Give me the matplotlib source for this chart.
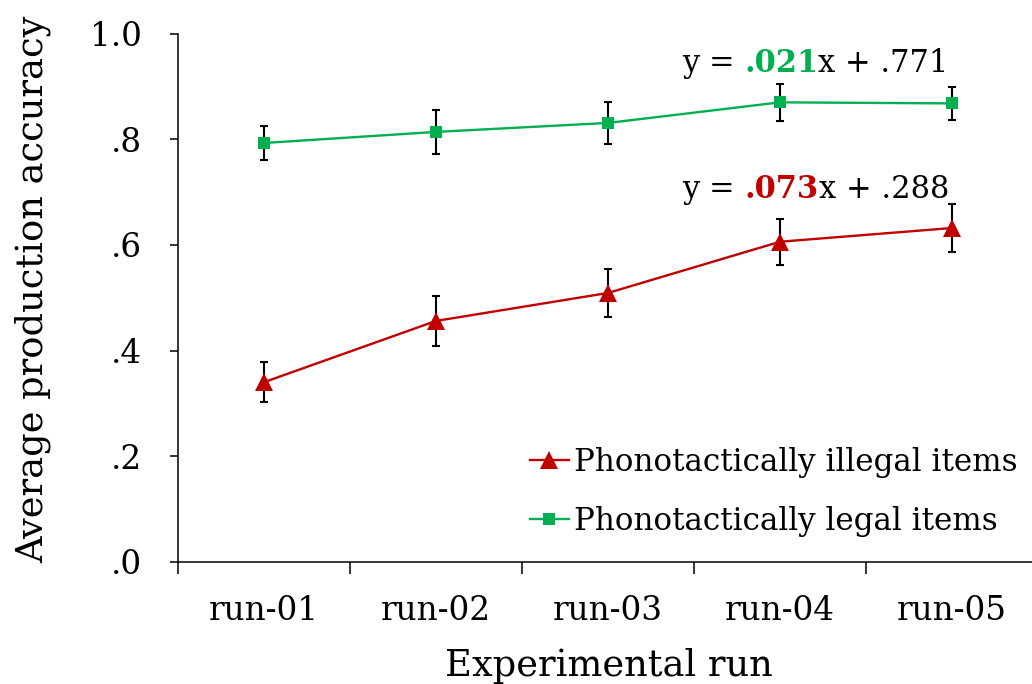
import matplotlib
matplotlib.use("Agg")
import matplotlib.pyplot as plt
from matplotlib.ticker import FixedLocator

plt.rcParams['font.family'] = ['DejaVu Serif']

# ---- data ----
runs = ["run-01", "run-02", "run-03", "run-04", "run-05"]
illegal_mean = [0.340, 0.456, 0.509, 0.606, 0.632]
illegal_err = [0.038, 0.047, 0.045, 0.044, 0.046]
legal_mean = [0.793, 0.814, 0.831, 0.870, 0.868]
legal_err = [0.033, 0.042, 0.040, 0.035, 0.031]
ytick_values = [0.0, 0.2, 0.4, 0.6, 0.8, 1.0]
ytick_labels = [".0", ".2", ".4", ".6", ".8", "1.0"]
legal_slope, legal_intercept = ".021", ".771"
illegal_slope, illegal_intercept = ".073", ".288"
label_illegal = "Phonotactically illegal items"
label_legal = "Phonotactically legal items"

GREEN = "#00B050"
RED = "#C00000"

W, H = 1032, 684
fig = plt.figure(figsize=(W / 100, H / 100), dpi=100)
ax_left, ax_right, ax_top, ax_bottom = 178, 1038, 33.7, 561.7
ax = fig.add_axes([ax_left / W, 1 - ax_bottom / H, (ax_right - ax_left) / W,
                   (ax_bottom - ax_top) / H])

x = list(range(1, len(runs) + 1))

# error bars (behind)
ax.errorbar(x, illegal_mean, yerr=illegal_err, fmt='none', ecolor='black',
            elinewidth=1.5, capsize=3.1, capthick=1.5, zorder=2)
ax.errorbar(x, legal_mean, yerr=legal_err, fmt='none', ecolor='black',
            elinewidth=1.5, capsize=3.1, capthick=1.5, zorder=2)

l_ill, = ax.plot(x, illegal_mean, color=RED, lw=1.7, marker='^', markersize=13,
                 markeredgewidth=0, label=label_illegal, zorder=3)
l_leg, = ax.plot(x, legal_mean, color=GREEN, lw=1.7, marker='s', markersize=9,
                 markeredgewidth=0, label=label_legal, zorder=3)

ax.set_xlim(0.5, len(runs) + 0.5)
ax.set_ylim(0, 1.0)

for s in ['top', 'right']:
    ax.spines[s].set_visible(False)
for s in ['left', 'bottom']:
    ax.spines[s].set_linewidth(1.1)
    ax.spines[s].set_color('black')

ax.set_yticks(ytick_values)
ax.set_yticklabels(ytick_labels)
ax.tick_params(axis='y', direction='out', length=6, width=1.1, pad=20,
               labelsize=23.5)

ax.set_xticks(x)
ax.set_xticklabels(runs)
ax.xaxis.set_minor_locator(FixedLocator([i + 0.5 for i in range(0, len(runs) + 1)]))
ax.tick_params(axis='x', which='major', length=0, pad=24, labelsize=23.5)
ax.tick_params(axis='x', which='minor', direction='out', length=8.6, width=1.1)

# axis titles
fig.text(609 / W, 1 - 676 / H, "Experimental run", fontsize=26.5,
         ha='center', va='baseline')
fig.text(42.7 / W, 1 - 289.7 / H, "Average production accuracy", fontsize=26.5,
         ha='center', va='baseline', rotation=90, rotation_mode='anchor')

# legend
leg = ax.legend(handles=[l_ill, l_leg], loc='upper left',
                bbox_to_anchor=(530 / W, 1 - 447 / H),
                bbox_transform=fig.transFigure, frameon=False, fontsize=22.3,
                handlelength=1.25, handletextpad=0.16, labelspacing=0.9,
                borderpad=0, borderaxespad=0)


def equation(x_px, y_px, slope, intercept, color):
    fs = 22
    t1 = fig.text(x_px / W, 1 - y_px / H, "y = ", fontsize=fs, va='baseline',
                  ha='left')
    t2 = ax.annotate(slope, xy=(1, 0), xycoords=t1, fontsize=fs,
                     fontweight='bold', color=color, va='bottom', ha='left')
    ax.annotate("x + " + intercept, xy=(1, 0), xycoords=t2, fontsize=fs,
                va='bottom', ha='left')


equation(682, 71.7, legal_slope, legal_intercept, GREEN)
equation(682, 197.7, illegal_slope, illegal_intercept, RED)

fig.savefig("out.png", dpi=100)
